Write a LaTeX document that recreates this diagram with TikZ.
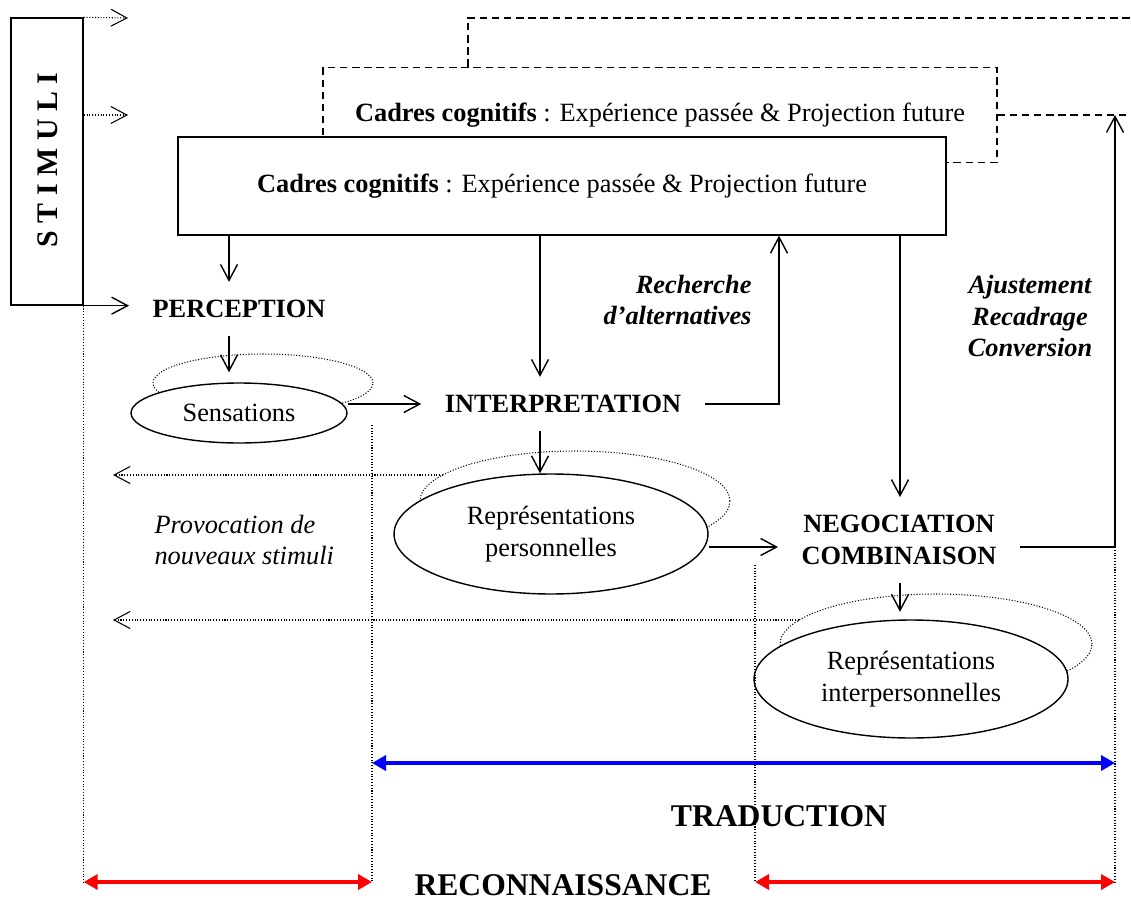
\documentclass[tikz,border=0pt]{standalone}
\usepackage{fontspec}
\setmainfont{Liberation Serif}
\usetikzlibrary{arrows.meta,shapes.geometric}

\begin{document}
\begin{tikzpicture}[x=0.02cm, y=-0.02cm, line width=0.8pt,
    >={Straight Barb[length=3.2mm,width=3.4mm]},
    font=\fontsize{15}{18}\selectfont,
    titre/.style={font=\fontsize{15}{18}\selectfont\bfseries, align=center, inner xsep=13pt, inner ysep=10pt},
    oval/.style={ellipse, draw, fill=white, inner sep=0pt, align=center},
    boucle/.style={ellipse, draw, densely dotted, line width=0.6pt, inner sep=0pt},
    pointille/.style={densely dotted, line width=0.6pt},
    tiret/.style={dash pattern=on 4.2pt off 2.7pt},
    duree/.style={line width=2.3pt, {Triangle[length=2.8mm,width=3mm]}-{Triangle[length=2.8mm,width=3mm]}}]
    \useasboundingbox (0,0) rectangle (1131,902);

    % cadres cognitifs en arrière-plan (tirets)
    \node[draw, tiret, minimum width=13.48cm, minimum height=1.9cm] (cadreB) at (660,115)
        {\textbf{Cadres cognitifs} : Expérience passée \& Projection future};
    \coordinate (dHaut) at (468,18);
    \coordinate (dFin) at (1131,18);
    \coordinate (dBord) at (1131,115);
    \draw[tiret] (cadreB.north -| dHaut) -- (dHaut) -- (dFin);
    \draw[tiret] (cadreB.east) -- (cadreB.east -| dBord);

    % cadres cognitifs au premier plan
    \node[draw, fill=white, minimum width=15.36cm, minimum height=1.96cm] (cadreA) at (562,186)
        {\textbf{Cadres cognitifs} : Expérience passée \& Projection future};

    % bloc des stimuli
    \node[draw, minimum width=1.44cm, minimum height=5.74cm] (stim) at (47,161.5) {};
    \node[rotate=90, font=\fontsize{17}{20}\selectfont\bfseries] (stimTxt) at (48,160) {S T I M U L I};
    \coordinate (s1) at (128,18);
    \coordinate (s2) at (128,115);
    \draw[pointille, ->] (stim.north east) -- (s1);
    \draw[pointille, ->] (s2 -| stim.east) -- (s2);

    % étapes
    \node[titre] (percep) at (239,309) {PERCEPTION};
    \node[titre] (interp) at (563,404) {INTERPRETATION};
    \node[titre] (nego) at (899,540) {NEGOCIATION\\COMBINAISON};
    \coordinate (yNeg) at (0,547);

    % commentaires en italique
    \node[font=\fontsize{15}{18}\selectfont\bfseries\itshape, align=right, anchor=east] (recherche) at (758,300) {Recherche\\d’alternatives};
    \node[font=\fontsize{15}{18}\selectfont\bfseries\itshape, align=center] (ajust) at (1030,316) {Ajustement\\Recadrage\\Conversion};
    \node[font=\fontsize{15}{18}\selectfont\itshape, align=left, anchor=west] (provoc) at (148,540) {Provocation de\\nouveaux stimuli};

    % représentations et leurs boucles
    \node[boucle, minimum width=4.4cm, minimum height=1.16cm] (sensLoop) at (263,383) {};
    \node[oval, minimum width=4.32cm, minimum height=1.2cm] (sens) at (239,413) {Sensations};
    \node[boucle, minimum width=6.2cm, minimum height=2cm] (ppLoop) at (575,501) {};
    \node[oval, minimum width=6.28cm, minimum height=2.4cm] (repperso) at (551,534) {Représentations\\personnelles};
    \node[boucle, minimum width=6.24cm, minimum height=2cm] (piLoop) at (936,644) {};
    \node[oval, minimum width=6.28cm, minimum height=2.36cm] (repinter) at (911,679) {Représentations\\interpersonnelles};

    % flèches descendantes
    \coordinate (xPer) at (229,0);
    \coordinate (xInt) at (540,0);
    \coordinate (xNeg) at (900,0);
    \coordinate (xRech) at (779,0);
    \coordinate (xAjust) at (1115,0);
    \draw[->] (stim.south east) -- (stim.south east -| percep.west);
    \draw[->] (cadreA.south -| xPer) -- (percep.north -| xPer);
    \draw[->, shorten >=0.2cm] (percep.south -| xPer) -- (sens.north -| xPer);
    \draw[->] (cadreA.south -| xInt) -- (interp.north -| xInt);
    \draw[->] (interp.south -| xInt) -- (repperso.north -| xInt);
    \draw[->] (cadreA.south -| xNeg) -- (nego.north -| xNeg);
    \draw[->, shorten >=0.15cm] (nego.south -| xNeg) -- (repinter.north -| xNeg);

    % flèches horizontales et retours
    \draw[->] (sens.east |- interp.west) -- (interp.west);
    \draw[->] (interp.east) -| (cadreA.south -| xRech);
    \draw[->] (repperso.east |- yNeg) -- (nego.west |- yNeg);
    \draw[->] (nego.east |- yNeg) -| (cadreB.east -| xAjust);

    % provocation de nouveaux stimuli
    \coordinate (g1) at (113,475);
    \coordinate (d1) at (443,475);
    \coordinate (g2) at (113,620);
    \coordinate (d2) at (799,620);
    \draw[pointille, ->] (d1) -- (g1);
    \draw[pointille, ->] (d2) -- (g2);

    % repères verticaux
    \coordinate (bas) at (0,882);
    \coordinate (bleu) at (0,763);
    \coordinate (v2) at (372,425);
    \coordinate (v3) at (755,565);
    \draw[pointille] (stim.south east) -- (stim.south east |- bas);
    \draw[pointille] (v2) -- (v2 |- bas);
    \draw[pointille] (v3) -- (v3 |- bas);
    \draw[pointille] (xAjust |- yNeg) -- (xAjust |- bas);

    % durées
    \draw[duree, blue] (v2 |- bleu) -- (xAjust |- bleu);
    \draw[duree, red] (stim.south east |- bas) -- (v2 |- bas);
    \draw[duree, red] (v3 |- bas) -- (xAjust |- bas);
    \node[font=\fontsize{18}{21}\selectfont\bfseries] (trad) at (779,816) {TRADUCTION};
    \node[font=\fontsize{18}{21}\selectfont\bfseries, inner sep=0pt] (recon) at (563,885) {RECONNAISSANCE};
\end{tikzpicture}
\end{document}
